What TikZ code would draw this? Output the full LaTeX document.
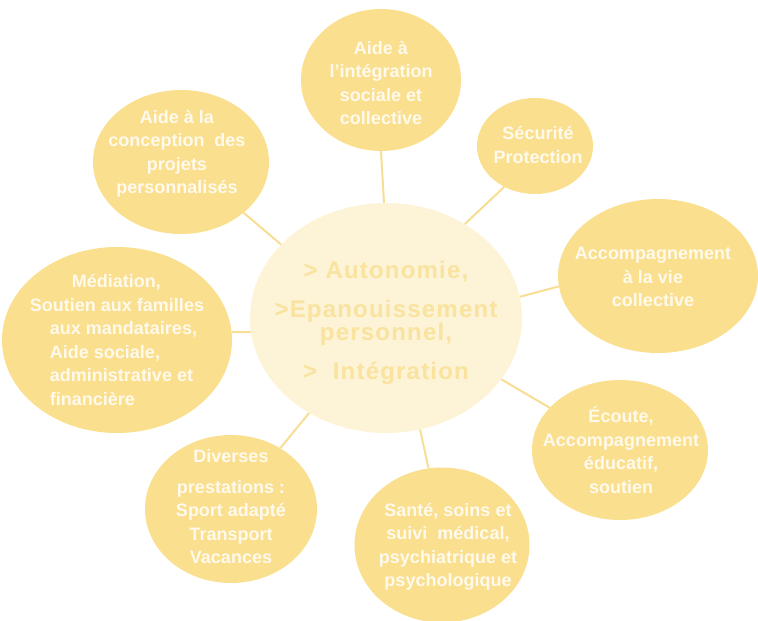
\documentclass[tikz,border=0pt]{standalone}
\usepackage{fontspec}
\setmainfont{Liberation Sans}
\newfontfamily\hubfont[LetterSpace=5]{Liberation Sans}
\usepackage{tikz}
\usetikzlibrary{shapes.geometric}
\definecolor{satfill}{RGB}{250,223,143}
\definecolor{hubfill}{RGB}{253,243,214}
\definecolor{hubink}{RGB}{249,227,158}
\definecolor{satink}{RGB}{255,250,236}
\definecolor{linkcol}{RGB}{247,222,148}

\begin{document}
\begin{tikzpicture}[
    x=1pt, y=-1pt,
    hub/.style={ellipse, fill=hubfill, inner sep=0pt,
                minimum width=272pt, minimum height=230pt},
    hubtxt/.style={text=hubink, inner sep=0pt, align=center,
                   font=\hubfont\fontsize{24}{23}\selectfont\bfseries},
    sat/.style={ellipse, fill=satfill, inner sep=0pt},
    sattxt/.style={text=satink, inner sep=0pt, align=center,
                   font=\fontsize{18}{23.5}\selectfont\bfseries},
    link/.style={draw=linkcol, line width=2pt},
]
\useasboundingbox (0,0) rectangle (758,621);

% Central goals
\node[hub, label={[hubtxt, yshift=-5pt]center:%
      > Autonomie,\\[16pt]>Epanouissement\\personnel,\\[16pt]>\ \ Intégration}]
      (hub) at (386,318) {};

% Surrounding services
\node[sat, minimum width=160pt, minimum height=142pt,
      label={[sattxt, yshift=-3pt]center:Aide à\\l'intégration\\sociale et\\collective}]
      (integ) at (381,80) {};
\node[sat, minimum width=116pt, minimum height=96pt,
      label={[sattxt, xshift=3pt, yshift=1pt]center:Sécurité\\Protection}]
      (secu) at (535,146) {};
\node[sat, minimum width=200pt, minimum height=154pt,
      label={[sattxt, xshift=-5pt, yshift=-1pt]center:Accompagnement\\à la vie\\collective}]
      (vie) at (658,276) {};
\node[sat, minimum width=176pt, minimum height=140pt,
      label={[sattxt, xshift=1pt]center:Écoute,\\Accompagnement\\éducatif,\\soutien}]
      (ecoute) at (620,450) {};
\node[sat, minimum width=175pt, minimum height=155pt,
      label={[sattxt, xshift=6pt, yshift=-2pt]center:Santé, soins et\\suivi\ \ médical,\\psychiatrique et\\psychologique}]
      (sante) at (442,545) {};
\node[sat, minimum width=172pt, minimum height=148pt,
      label={[sattxt, yshift=2pt]center:Diverses\\[7pt]prestations :\\Sport adapté\\Transport\\Vacances}]
      (divers) at (231,509) {};
\node[sat, minimum width=230pt, minimum height=186pt,
      label={[sattxt, align=left]center:%
      \hspace*{42pt}Médiation,\\Soutien aux familles\\\hspace*{20pt}aux mandataires,\\%
      \hspace*{20pt}Aide sociale,\\\hspace*{20pt}administrative et\\\hspace*{20pt}financière}]
      (media) at (117,340) {};
\node[sat, minimum width=176pt, minimum height=144pt,
      label={[sattxt, xshift=-4pt, yshift=8pt]center:Aide à la\\conception\ \ des\\projets\\personnalisés}]
      (concep) at (181,162) {};

% Spokes
\foreach \s/\a/\b in {integ/91/270, secu/50/233, vie/9/186, ecoute/-28/149,
                      sante/-73/100, divers/231/51, media/186/4, concep/145/-39} {
    \draw[link] (hub.\a) -- (\s.\b);
}

\end{tikzpicture}
\end{document}
